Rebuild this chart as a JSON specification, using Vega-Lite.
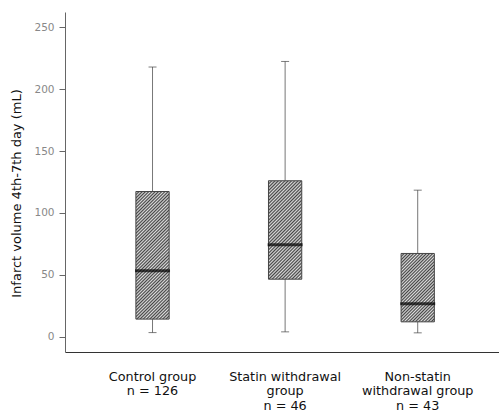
{
  "$schema": "https://vega.github.io/schema/vega-lite/v6.json",
  "width": 434,
  "height": 340,
  "autosize": {"type": "none"},
  "padding": {"left": 65, "top": 12, "right": 0, "bottom": 59},
  "background": "white",
  "config": {"view": {"stroke": null}, "font": "DejaVu Sans"},
  "data": {"values": [
    {"group": "Control group", "n": 126, "lower": 3.2, "q1": 14.1, "median": 53.2, "q3": 117.3, "upper": 218},
    {"group": "Statin withdrawal group", "n": 46, "lower": 3.8, "q1": 46.4, "median": 74.2, "q3": 126, "upper": 222.5},
    {"group": "Non-statin withdrawal group", "n": 43, "lower": 3.0, "q1": 11.9, "median": 26.5, "q3": 67.2, "upper": 118.4}
  ]},
  "encoding": {
    "x": {
      "field": "group", "type": "nominal", "sort": null,
      "scale": {"type": "band", "paddingInner": 0.749, "paddingOuter": 0.511, "align": 0.523},
      "axis": {
        "title": null, "ticks": false, "labelAngle": 0, "domainColor": "#333",
        "labelFontSize": 12.8, "labelColor": "#111", "labelPadding": 18, "labelLineHeight": 14.5,
        "labelExpr": "datum.label == 'Control group' ? ['Control group', 'n = 126'] : datum.label == 'Statin withdrawal group' ? ['Statin withdrawal', 'group', 'n = 46'] : ['Non-statin', 'withdrawal group', 'n = 43']"
      }
    }
  },
  "layer": [
    {
      "mark": {"type": "rule", "color": "#777", "strokeWidth": 1},
      "encoding": {
        "y": {"field": "lower", "type": "quantitative",
          "scale": {"domain": [-12.5, 262.5], "nice": false, "zero": false},
          "axis": {"values": [0, 50, 100, 150, 200, 250], "grid": false, "domainColor": "#666", "tickColor": "#666", "tickSize": 6,
            "labelFontSize": 10.5, "labelColor": "#888", "labelPadding": 5,
            "title": "Infarct volume 4th-7th day (mL)", "titleFontSize": 13, "titleFontWeight": "normal", "titleColor": "#111", "titlePadding": 10, "titleY": 181}},
        "y2": {"field": "upper"}
      }
    },
    {
      "mark": {"type": "tick", "color": "#444", "size": 8, "thickness": 1},
      "encoding": {"y": {"field": "upper", "type": "quantitative"}}
    },
    {
      "mark": {"type": "tick", "color": "#444", "size": 8, "thickness": 1},
      "encoding": {"y": {"field": "lower", "type": "quantitative"}}
    },
    {
      "transform": [{"filter": "datum.group == 'Control group'"}],
      "mark": {"type": "bar", "stroke": "#444", "strokeWidth": 1, "fill": {"gradient": "linear", "x1": 0, "y1": 0, "x2": 0.3051, "y2": 1.1797, "stops": [
        {"offset":0,"color":"#444"},{"offset":0.01,"color":"#ddd"},{"offset":0.02,"color":"#444"},{"offset":0.03,"color":"#ddd"},{"offset":0.04,"color":"#444"},{"offset":0.05,"color":"#ddd"},{"offset":0.06,"color":"#444"},{"offset":0.07,"color":"#ddd"},{"offset":0.08,"color":"#444"},{"offset":0.09,"color":"#ddd"},
        {"offset":0.1,"color":"#444"},{"offset":0.11,"color":"#ddd"},{"offset":0.12,"color":"#444"},{"offset":0.13,"color":"#ddd"},{"offset":0.14,"color":"#444"},{"offset":0.15,"color":"#ddd"},{"offset":0.16,"color":"#444"},{"offset":0.17,"color":"#ddd"},{"offset":0.18,"color":"#444"},{"offset":0.19,"color":"#ddd"},
        {"offset":0.2,"color":"#444"},{"offset":0.21,"color":"#ddd"},{"offset":0.22,"color":"#444"},{"offset":0.23,"color":"#ddd"},{"offset":0.24,"color":"#444"},{"offset":0.25,"color":"#ddd"},{"offset":0.26,"color":"#444"},{"offset":0.27,"color":"#ddd"},{"offset":0.28,"color":"#444"},{"offset":0.29,"color":"#ddd"},
        {"offset":0.3,"color":"#444"},{"offset":0.31,"color":"#ddd"},{"offset":0.32,"color":"#444"},{"offset":0.33,"color":"#ddd"},{"offset":0.34,"color":"#444"},{"offset":0.35,"color":"#ddd"},{"offset":0.36,"color":"#444"},{"offset":0.37,"color":"#ddd"},{"offset":0.38,"color":"#444"},{"offset":0.39,"color":"#ddd"},
        {"offset":0.4,"color":"#444"},{"offset":0.41,"color":"#ddd"},{"offset":0.42,"color":"#444"},{"offset":0.43,"color":"#ddd"},{"offset":0.44,"color":"#444"},{"offset":0.45,"color":"#ddd"},{"offset":0.46,"color":"#444"},{"offset":0.47,"color":"#ddd"},{"offset":0.48,"color":"#444"},{"offset":0.49,"color":"#ddd"},
        {"offset":0.5,"color":"#444"},{"offset":0.51,"color":"#ddd"},{"offset":0.52,"color":"#444"},{"offset":0.53,"color":"#ddd"},{"offset":0.54,"color":"#444"},{"offset":0.55,"color":"#ddd"},{"offset":0.56,"color":"#444"},{"offset":0.57,"color":"#ddd"},{"offset":0.58,"color":"#444"},{"offset":0.59,"color":"#ddd"},
        {"offset":0.6,"color":"#444"},{"offset":0.61,"color":"#ddd"},{"offset":0.62,"color":"#444"},{"offset":0.63,"color":"#ddd"},{"offset":0.64,"color":"#444"},{"offset":0.65,"color":"#ddd"},{"offset":0.66,"color":"#444"},{"offset":0.67,"color":"#ddd"},{"offset":0.68,"color":"#444"},{"offset":0.69,"color":"#ddd"},
        {"offset":0.7,"color":"#444"},{"offset":0.71,"color":"#ddd"},{"offset":0.72,"color":"#444"},{"offset":0.73,"color":"#ddd"},{"offset":0.74,"color":"#444"},{"offset":0.75,"color":"#ddd"},{"offset":0.76,"color":"#444"},{"offset":0.77,"color":"#ddd"},{"offset":0.78,"color":"#444"},{"offset":0.79,"color":"#ddd"},
        {"offset":0.8,"color":"#444"},{"offset":0.81,"color":"#ddd"},{"offset":0.82,"color":"#444"},{"offset":0.83,"color":"#ddd"},{"offset":0.84,"color":"#444"},{"offset":0.85,"color":"#ddd"},{"offset":0.86,"color":"#444"},{"offset":0.87,"color":"#ddd"},{"offset":0.88,"color":"#444"},{"offset":0.89,"color":"#ddd"},
        {"offset":0.9,"color":"#444"},{"offset":0.91,"color":"#ddd"},{"offset":0.92,"color":"#444"},{"offset":0.93,"color":"#ddd"},{"offset":0.94,"color":"#444"},{"offset":0.95,"color":"#ddd"},{"offset":0.96,"color":"#444"},{"offset":0.97,"color":"#ddd"},{"offset":0.98,"color":"#444"},{"offset":0.99,"color":"#ddd"},
        {"offset":1,"color":"#444"}
      ]}},
      "encoding": {"y": {"field": "q1", "type": "quantitative"}, "y2": {"field": "q3"}}
    },
    {
      "transform": [{"filter": "datum.group == 'Statin withdrawal group'"}],
      "mark": {"type": "bar", "stroke": "#444", "strokeWidth": 1, "fill": {"gradient": "linear", "x1": 0, "y1": 0, "x2": 0.4064, "y2": 1.2009, "stops": [
        {"offset":0,"color":"#444"},{"offset":0.0125,"color":"#ddd"},{"offset":0.025,"color":"#444"},{"offset":0.0375,"color":"#ddd"},{"offset":0.05,"color":"#444"},{"offset":0.0625,"color":"#ddd"},{"offset":0.075,"color":"#444"},{"offset":0.0875,"color":"#ddd"},
        {"offset":0.1,"color":"#444"},{"offset":0.1125,"color":"#ddd"},{"offset":0.125,"color":"#444"},{"offset":0.1375,"color":"#ddd"},{"offset":0.15,"color":"#444"},{"offset":0.1625,"color":"#ddd"},{"offset":0.175,"color":"#444"},{"offset":0.1875,"color":"#ddd"},
        {"offset":0.2,"color":"#444"},{"offset":0.2125,"color":"#ddd"},{"offset":0.225,"color":"#444"},{"offset":0.2375,"color":"#ddd"},{"offset":0.25,"color":"#444"},{"offset":0.2625,"color":"#ddd"},{"offset":0.275,"color":"#444"},{"offset":0.2875,"color":"#ddd"},
        {"offset":0.3,"color":"#444"},{"offset":0.3125,"color":"#ddd"},{"offset":0.325,"color":"#444"},{"offset":0.3375,"color":"#ddd"},{"offset":0.35,"color":"#444"},{"offset":0.3625,"color":"#ddd"},{"offset":0.375,"color":"#444"},{"offset":0.3875,"color":"#ddd"},
        {"offset":0.4,"color":"#444"},{"offset":0.4125,"color":"#ddd"},{"offset":0.425,"color":"#444"},{"offset":0.4375,"color":"#ddd"},{"offset":0.45,"color":"#444"},{"offset":0.4625,"color":"#ddd"},{"offset":0.475,"color":"#444"},{"offset":0.4875,"color":"#ddd"},
        {"offset":0.5,"color":"#444"},{"offset":0.5125,"color":"#ddd"},{"offset":0.525,"color":"#444"},{"offset":0.5375,"color":"#ddd"},{"offset":0.55,"color":"#444"},{"offset":0.5625,"color":"#ddd"},{"offset":0.575,"color":"#444"},{"offset":0.5875,"color":"#ddd"},
        {"offset":0.6,"color":"#444"},{"offset":0.6125,"color":"#ddd"},{"offset":0.625,"color":"#444"},{"offset":0.6375,"color":"#ddd"},{"offset":0.65,"color":"#444"},{"offset":0.6625,"color":"#ddd"},{"offset":0.675,"color":"#444"},{"offset":0.6875,"color":"#ddd"},
        {"offset":0.7,"color":"#444"},{"offset":0.7125,"color":"#ddd"},{"offset":0.725,"color":"#444"},{"offset":0.7375,"color":"#ddd"},{"offset":0.75,"color":"#444"},{"offset":0.7625,"color":"#ddd"},{"offset":0.775,"color":"#444"},{"offset":0.7875,"color":"#ddd"},
        {"offset":0.8,"color":"#444"},{"offset":0.8125,"color":"#ddd"},{"offset":0.825,"color":"#444"},{"offset":0.8375,"color":"#ddd"},{"offset":0.85,"color":"#444"},{"offset":0.8625,"color":"#ddd"},{"offset":0.875,"color":"#444"},{"offset":0.8875,"color":"#ddd"},
        {"offset":0.9,"color":"#444"},{"offset":0.9125,"color":"#ddd"},{"offset":0.925,"color":"#444"},{"offset":0.9375,"color":"#ddd"},{"offset":0.95,"color":"#444"},{"offset":0.9625,"color":"#ddd"},{"offset":0.975,"color":"#444"},{"offset":0.9875,"color":"#ddd"},
        {"offset":1,"color":"#444"}
      ]}},
      "encoding": {"y": {"field": "q1", "type": "quantitative"}, "y2": {"field": "q3"}}
    },
    {
      "transform": [{"filter": "datum.group == 'Non-statin withdrawal group'"}],
      "mark": {"type": "bar", "stroke": "#444", "strokeWidth": 1, "fill": {"gradient": "linear", "x1": 0, "y1": 0, "x2": 0.5855, "y2": 1.2019, "stops": [
        {"offset":0,"color":"#444"},{"offset":0.015625,"color":"#ddd"},{"offset":0.03125,"color":"#444"},{"offset":0.046875,"color":"#ddd"},{"offset":0.0625,"color":"#444"},{"offset":0.078125,"color":"#ddd"},{"offset":0.09375,"color":"#444"},{"offset":0.109375,"color":"#ddd"},
        {"offset":0.125,"color":"#444"},{"offset":0.140625,"color":"#ddd"},{"offset":0.15625,"color":"#444"},{"offset":0.171875,"color":"#ddd"},{"offset":0.1875,"color":"#444"},{"offset":0.203125,"color":"#ddd"},{"offset":0.21875,"color":"#444"},{"offset":0.234375,"color":"#ddd"},
        {"offset":0.25,"color":"#444"},{"offset":0.265625,"color":"#ddd"},{"offset":0.28125,"color":"#444"},{"offset":0.296875,"color":"#ddd"},{"offset":0.3125,"color":"#444"},{"offset":0.328125,"color":"#ddd"},{"offset":0.34375,"color":"#444"},{"offset":0.359375,"color":"#ddd"},
        {"offset":0.375,"color":"#444"},{"offset":0.390625,"color":"#ddd"},{"offset":0.40625,"color":"#444"},{"offset":0.421875,"color":"#ddd"},{"offset":0.4375,"color":"#444"},{"offset":0.453125,"color":"#ddd"},{"offset":0.46875,"color":"#444"},{"offset":0.484375,"color":"#ddd"},
        {"offset":0.5,"color":"#444"},{"offset":0.515625,"color":"#ddd"},{"offset":0.53125,"color":"#444"},{"offset":0.546875,"color":"#ddd"},{"offset":0.5625,"color":"#444"},{"offset":0.578125,"color":"#ddd"},{"offset":0.59375,"color":"#444"},{"offset":0.609375,"color":"#ddd"},
        {"offset":0.625,"color":"#444"},{"offset":0.640625,"color":"#ddd"},{"offset":0.65625,"color":"#444"},{"offset":0.671875,"color":"#ddd"},{"offset":0.6875,"color":"#444"},{"offset":0.703125,"color":"#ddd"},{"offset":0.71875,"color":"#444"},{"offset":0.734375,"color":"#ddd"},
        {"offset":0.75,"color":"#444"},{"offset":0.765625,"color":"#ddd"},{"offset":0.78125,"color":"#444"},{"offset":0.796875,"color":"#ddd"},{"offset":0.8125,"color":"#444"},{"offset":0.828125,"color":"#ddd"},{"offset":0.84375,"color":"#444"},{"offset":0.859375,"color":"#ddd"},
        {"offset":0.875,"color":"#444"},{"offset":0.890625,"color":"#ddd"},{"offset":0.90625,"color":"#444"},{"offset":0.921875,"color":"#ddd"},{"offset":0.9375,"color":"#444"},{"offset":0.953125,"color":"#ddd"},{"offset":0.96875,"color":"#444"},{"offset":0.984375,"color":"#ddd"},
        {"offset":1,"color":"#444"}
      ]}},
      "encoding": {"y": {"field": "q1", "type": "quantitative"}, "y2": {"field": "q3"}}
    },
    {
      "mark": {"type": "tick", "color": "#000", "size": 35, "thickness": 3},
      "encoding": {"y": {"field": "median", "type": "quantitative"}}
    }
  ]
}
